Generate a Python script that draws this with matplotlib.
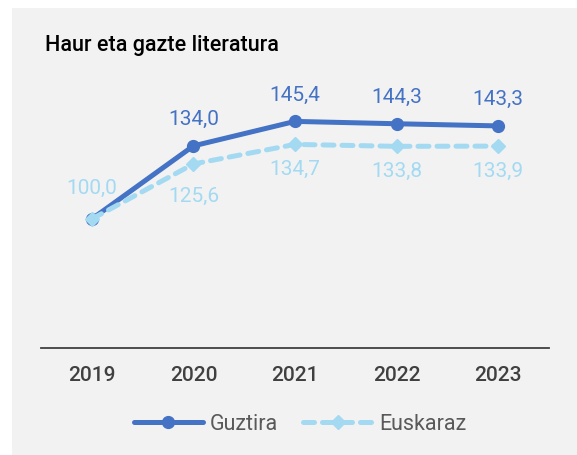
import matplotlib.pyplot as plt
from matplotlib.patches import Rectangle

years = ['2019', '2020', '2021', '2022', '2023']
guztira = [100.0, 134.0, 145.4, 144.3, 143.3]
euskaraz = [100.0, 125.6, 134.7, 133.8, 133.9]

c_tot = '#4472C4'
c_eus = '#A3DAF2'
bg = '#F2F2F2'

plt.rcParams['font.family'] = ['Roboto', 'DejaVu Sans']

fig = plt.figure(figsize=(5.77, 4.55), dpi=100)
fig.patches.append(Rectangle((12/577, 0), 1, 1 - 8/455, transform=fig.transFigure,
                             facecolor=bg, edgecolor='none', zorder=-10))

ax = fig.add_axes([41/577, 107/455, 508/577, 258/455])
ax.set_facecolor('none')
x = range(len(years))

ax.plot(x, guztira, color=c_tot, lw=3.6, marker='o', ms=8.5, label='Guztira',
        solid_capstyle='round', zorder=3)
ax.plot(x, euskaraz, color=c_eus, lw=3.6, ls=(0, (2.2, 1.6)), marker='D', ms=7,
        label='Euskaraz', dash_capstyle='round', zorder=4)

fmt = lambda v: f'{v:.1f}'.replace('.', ',')
for i, v in enumerate(guztira):
    if i == 0:
        continue
    ax.annotate(fmt(v), (i, v), xytext=(0, 19), textcoords='offset points',
                ha='center', va='center', color=c_tot, fontsize=15)
eus_off = [22, -23, -18, -18, -18]
for i, v in enumerate(euskaraz):
    ax.annotate(fmt(v), (i, v), xytext=(0, eus_off[i]), textcoords='offset points',
                ha='center', va='center', color=c_eus, fontsize=15)

ax.set_xlim(-0.5, 4.5)
ax.set_ylim(40, 160)
ax.set_xticks(list(x))
ax.set_xticklabels(years, fontsize=15, color='#404040', fontweight='medium')
ax.set_yticks([])
ax.tick_params(axis='x', length=0, pad=13)
for s in ['top', 'right', 'left']:
    ax.spines[s].set_visible(False)
ax.spines['bottom'].set_color('#404040')
ax.spines['bottom'].set_linewidth(1.3)

fig.text(45/577, 1 - 45/455, 'Haur eta gazte literatura', fontsize=15.5,
         fontweight='medium', color='black', va='center', ha='left')

leg = ax.legend(loc='center', bbox_to_anchor=(0.5 + 5/508, (348 - 424) / 258), ncol=2,
                frameon=False, fontsize=15.5, labelcolor='#595959', handlelength=3.2,
                handletextpad=0.3, columnspacing=1.2)

fig.savefig('out.png', dpi=100)
